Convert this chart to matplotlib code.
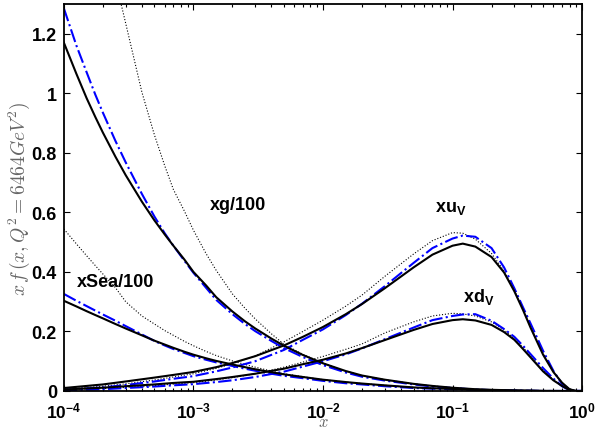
import numpy as np
import matplotlib
matplotlib.use("Agg")
import matplotlib.pyplot as plt
from matplotlib.ticker import LogLocator, NullFormatter

plt.rcParams['font.family'] = ['Liberation Sans', 'DejaVu Sans']
plt.rcParams['mathtext.fontset'] = 'custom'
plt.rcParams['mathtext.rm'] = 'Liberation Sans'
plt.rcParams['mathtext.bf'] = 'Liberation Sans:bold'

# x values for gluon and sea curves
x_low = [1e-4, 1.25e-4, 1.5e-4, 1.75e-4, 2e-4, 2.5e-4, 3e-4, 4e-4, 5e-4, 6e-4, 7e-4, 8.5e-4,
         1e-3, 1.25e-3, 1.5e-3, 2e-3, 2.5e-3, 3e-3, 4e-3, 5e-3, 7e-3, 1e-2, 1.5e-2, 2e-2,
         3e-2, 5e-2, 7e-2, 0.1, 0.15, 0.2, 0.3, 0.4, 0.5, 0.7, 1.0]

# gluon / 100 : solid fit, blue dash-dot, dotted
g_fit = [1.17, 1.065, 0.983, 0.92, 0.868, 0.787, 0.725, 0.636, 0.573, 0.526, 0.488, 0.442,
         0.40, 0.355, 0.315, 0.267, 0.234, 0.21, 0.176, 0.152, 0.121, 0.093, 0.067, 0.052,
         0.038, 0.024, 0.017, 0.011, 0.006, 0.004, 0.002, 0.001, 0.0005, 0, 0]
g_blue = [1.285, 1.16, 1.07, 0.995, 0.935, 0.84, 0.768, 0.662, 0.586, 0.530, 0.488, 0.438,
          0.397, 0.347, 0.306, 0.258, 0.225, 0.201, 0.168, 0.144, 0.114, 0.087, 0.062, 0.048,
          0.035, 0.022, 0.015, 0.010, 0.005, 0.003, 0.0015, 0.001, 0, 0, 0]
g_dot = [np.nan, np.nan, np.nan, np.nan, 1.59, 1.38, 1.235, 1.004, 0.86, 0.757, 0.677, 0.605,
         0.54, 0.462, 0.405, 0.326, 0.278, 0.242, 0.192, 0.157, 0.123, 0.094, 0.067, 0.052,
         0.038, 0.024, 0.017, 0.011, 0.006, 0.004, 0.002, 0.001, 0.0005, 0, 0]

# sea / 100
sea_fit = [0.303, 0.284, 0.268, 0.255, 0.244, 0.225, 0.21, 0.187, 0.169, 0.156, 0.145, 0.132,
           0.122, 0.11, 0.101, 0.089, 0.08, 0.073, 0.063, 0.056, 0.047, 0.038, 0.03, 0.025,
           0.019, 0.012, 0.009, 0.007, 0.004, 0.003, 0.0015, 0.001, 0, 0, 0]
sea_blue = [0.326, 0.303, 0.285, 0.27, 0.257, 0.236, 0.218, 0.19, 0.168, 0.153, 0.141, 0.128,
            0.117, 0.105, 0.096, 0.084, 0.075, 0.068, 0.058, 0.051, 0.043, 0.034, 0.026, 0.022,
            0.016, 0.01, 0.008, 0.006, 0.003, 0.002, 0.001, 0, 0, 0, 0]
sea_dot = [0.544, 0.494, 0.454, 0.421, 0.393, 0.347, 0.30, 0.252, 0.225, 0.203, 0.187, 0.167,
           0.152, 0.133, 0.119, 0.101, 0.089, 0.08, 0.067, 0.058, 0.048, 0.038, 0.03, 0.025,
           0.019, 0.012, 0.009, 0.007, 0.004, 0.003, 0.0015, 0.001, 0, 0, 0]

# x values for valence curves
x_val = [1e-4, 2e-4, 3e-4, 5e-4, 7e-4, 1e-3, 1.5e-3, 2e-3, 3e-3, 5e-3, 7e-3, 1e-2, 1.5e-2,
         2e-2, 3e-2, 5e-2, 7e-2, 0.1, 0.12, 0.15, 0.2, 0.25, 0.3, 0.35, 0.4, 0.5, 0.6, 0.7,
         0.8, 0.9, 1.0]

uv_fit = [0.01, 0.022, 0.032, 0.045, 0.054, 0.064, 0.08, 0.094, 0.117, 0.153, 0.182, 0.215,
          0.258, 0.292, 0.345, 0.415, 0.458, 0.488, 0.495, 0.485, 0.45, 0.398, 0.335, 0.272,
          0.213, 0.122, 0.064, 0.028, 0.006, 0, 0]
uv_blue = [0.004, 0.012, 0.02, 0.032, 0.041, 0.05, 0.066, 0.079, 0.1, 0.138, 0.172, 0.207,
           0.255, 0.293, 0.352, 0.43, 0.48, 0.512, 0.522, 0.518, 0.48, 0.415, 0.345, 0.281,
           0.227, 0.135, 0.068, 0.024, 0.005, 0, 0]
uv_dot = [0.006, 0.016, 0.024, 0.037, 0.047, 0.058, 0.076, 0.092, 0.118, 0.165, 0.2, 0.238,
          0.285, 0.322, 0.385, 0.46, 0.505, 0.532, 0.53, 0.51, 0.462, 0.403, 0.338, 0.275,
          0.216, 0.126, 0.065, 0.025, 0.004, 0, 0]

dv_fit = [0.005, 0.011, 0.016, 0.022, 0.027, 0.031, 0.04, 0.047, 0.058, 0.075, 0.09, 0.105,
          0.126, 0.144, 0.171, 0.205, 0.225, 0.238, 0.241, 0.237, 0.222, 0.198, 0.172, 0.141,
          0.113, 0.066, 0.036, 0.017, 0.003, 0, 0]
dv_blue = [0.002, 0.006, 0.01, 0.015, 0.019, 0.023, 0.03, 0.036, 0.047, 0.065, 0.082, 0.1,
           0.123, 0.143, 0.174, 0.213, 0.238, 0.252, 0.257, 0.258, 0.236, 0.208, 0.182, 0.152,
           0.124, 0.077, 0.042, 0.016, 0.003, 0, 0]
dv_dot = [0.003, 0.008, 0.012, 0.018, 0.023, 0.028, 0.037, 0.045, 0.058, 0.08, 0.097, 0.116,
          0.14, 0.158, 0.195, 0.232, 0.252, 0.261, 0.259, 0.252, 0.232, 0.205, 0.176, 0.146,
          0.118, 0.07, 0.038, 0.016, 0.003, 0, 0]

fig = plt.figure(figsize=(5.97, 4.31), dpi=100)
ax = fig.add_axes([0.107, 0.0905, 0.868, 0.898])

ax.plot(x_low, g_dot, ':', color='k', lw=0.8)
ax.plot(x_low, sea_dot, ':', color='k', lw=0.8)
ax.plot(x_val, uv_dot, ':', color='k', lw=0.8)
ax.plot(x_val, dv_dot, ':', color='k', lw=0.8)

ax.plot(x_low, g_blue, '-.', color='b', lw=1.5)
ax.plot(x_low, sea_blue, '-.', color='b', lw=1.5)
ax.plot(x_val, uv_blue, '-.', color='b', lw=1.5)
ax.plot(x_val, dv_blue, '-.', color='b', lw=1.5)

ax.plot(x_low, g_fit, '-', color='k', lw=1.5)
ax.plot(x_low, sea_fit, '-', color='k', lw=1.5)
ax.plot(x_val, uv_fit, '-', color='k', lw=1.5)
ax.plot(x_val, dv_fit, '-', color='k', lw=1.5)

ax.set_xscale('log')
ax.set_xlim(1e-4, 1)
ax.set_ylim(0, 1.3)

ax.set_xticks([1e-4, 1e-3, 1e-2, 1e-1, 1])
ax.set_xticklabels([r'$\mathbf{10^{-4}}$', r'$\mathbf{10^{-3}}$', r'$\mathbf{10^{-2}}$',
                    r'$\mathbf{10^{-1}}$', r'$\mathbf{10^{0}}$'], fontsize=12.5)
ax.xaxis.set_minor_locator(LogLocator(base=10, subs=np.arange(2, 10), numticks=20))
ax.xaxis.set_minor_formatter(NullFormatter())
ax.set_yticks([0, 0.2, 0.4, 0.6, 0.8, 1.0, 1.2])
ax.set_yticklabels(['0', '0.2', '0.4', '0.6', '0.8', '1', '1.2'], fontsize=13,
                   fontweight='bold')
ax.tick_params(which='both', direction='in', top=True, right=True, width=0.8)
ax.tick_params(which='major', length=4)
ax.tick_params(axis='x', which='major', pad=6.5)
ax.tick_params(axis='y', which='major', pad=5)
ax.tick_params(which='minor', length=2.5)
for s in ax.spines.values():
    s.set_linewidth(1.3)

ax.set_xlabel(r'$x$', fontsize=12, color='0.4', labelpad=-4, math_fontfamily='cm')
ax.set_ylabel(r'$x\,f\,(x,Q^2=6464GeV^2)$', fontsize=14, color='0.4', labelpad=0,
              math_fontfamily='cm')

ax.text(1.34e-3, 0.628, 'xg/100', fontsize=13, fontweight='bold', va='center')
ax.text(1.26e-4, 0.368, 'xSea/100', fontsize=13, fontweight='bold', va='center')
ax.text(0.073, 0.615, r'xu$_\mathbf{V}$', fontsize=13, fontweight='bold', va='center')
ax.text(0.12, 0.32, r'xd$_\mathbf{V}$', fontsize=13, fontweight='bold', va='center')

fig.savefig('out.png', dpi=100)
